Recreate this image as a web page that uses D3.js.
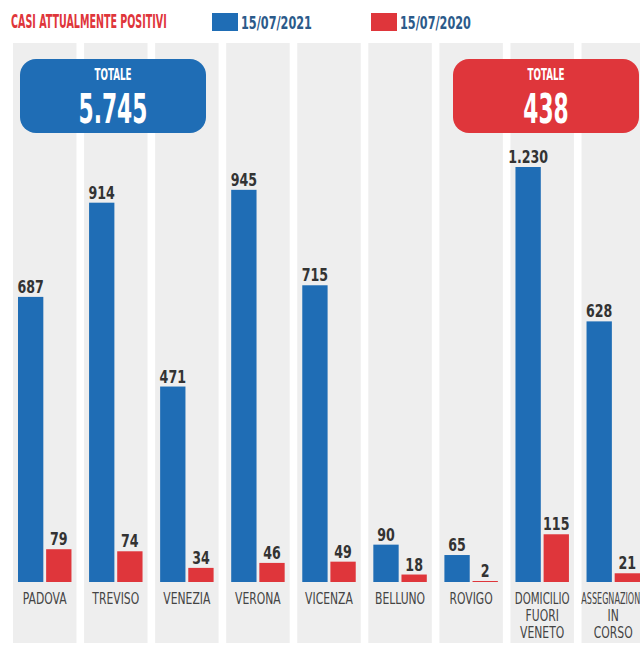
<!DOCTYPE html>
<meta charset="utf-8">
<style>
body { margin: 0; background: #fff; }
text { font-family: "Liberation Sans Narrow", "DejaVu Sans Condensed", sans-serif; }
</style>
<body>
<script src="https://cdnjs.cloudflare.com/ajax/libs/d3/7.8.5/d3.min.js"></script>
<script>
// data
var categories = ["PADOVA", "TREVISO", "VENEZIA", "VERONA", "VICENZA", "BELLUNO", "ROVIGO", "DOMICILIO FUORI VENETO", "ASSEGNAZIONE IN CORSO"];
var labelLines = [["PADOVA"], ["TREVISO"], ["VENEZIA"], ["VERONA"], ["VICENZA"], ["BELLUNO"], ["ROVIGO"], ["DOMICILIO", "FUORI", "VENETO"], ["ASSEGNAZIONE", "IN", "CORSO"]];
var series = ["15/07/2021", "15/07/2020"];
var values2021 = [687, 914, 471, 945, 715, 90, 65, 1230, 628];
var values2020 = [79, 74, 34, 46, 49, 18, 2, 115, 21];

var blue = "#1f6db5", red = "#df363b";
var colors = [blue, red];

var w = 640, h = 648;

var it = d3.formatLocale({decimal: ",", thousands: ".", grouping: [3], currency: ["€", ""]});
var fmt = it.format(",d");

// squeeze text horizontally around its x, the original uses a very narrow font
// k < 1 is a factor, k > 1 is a target width in px, maxW caps the width
function condense(sel, k, maxW) {
	sel.each(function() {
		var t = d3.select(this);
		var x0 = +t.attr("x") || 0;
		var len = this.getComputedTextLength();
		var f = k > 1 ? k / len : k;
		if (maxW) f = Math.min(f, maxW / len);
		t.attr("transform", "translate(" + x0 + ",0) scale(" + f + ",1) translate(" + (-x0) + ",0)");
	});
}

var svg = d3.select("body").append("svg")
	.attr("width", w)
	.attr("height", h);

var x = d3.scaleBand()
	.domain(categories)
	.range([13, 645])
	.paddingInner(0.107)
	.paddingOuter(0);

var xs = d3.scaleBand()
	.domain(series)
	.range([5, x.bandwidth() - 5])
	.paddingInner(0.1);

// the tall "domicilio" bar is cut at the top in the original
var y = d3.scaleLinear()
	.domain([0, 1000])
	.range([582, 167])
	.clamp(true);

var rows = categories.map(function(c, i) {
	return {cat: c, lines: labelLines[i], vals: [values2021[i], values2020[i]]};
});

// grey panels
svg.selectAll("rect.panel")
	.data(rows)
	.enter().append("rect")
	.attr("class", "panel")
	.attr("x", d => x(d.cat))
	.attr("y", 43)
	.attr("width", x.bandwidth())
	.attr("height", 600)
	.attr("fill", "#eeeeee");

var col = svg.selectAll("g.col")
	.data(rows)
	.enter().append("g")
	.attr("class", "col")
	.attr("transform", d => "translate(" + x(d.cat) + ",0)");

var bars = col.selectAll("g.bar")
	.data(d => d.vals.map((v, j) => ({s: series[j], v: v, j: j})))
	.enter().append("g");

bars.append("rect")
	.attr("x", d => xs(d.s))
	.attr("y", d => Math.min(y(d.v), y(0) - 1))
	.attr("width", xs.bandwidth())
	.attr("height", d => Math.max(1, y(0) - y(d.v)))
	.attr("fill", d => colors[d.j]);

bars.append("text")
	.attr("x", d => xs(d.s) + xs.bandwidth() / 2)
	.attr("y", d => Math.min(y(d.v), y(0) - 1) - 4)
	.attr("text-anchor", "middle")
	.attr("font-size", 18)
	.attr("font-weight", "bold")
	.attr("fill", "#333")
	.text(d => fmt(d.v))
	.call(condense, 0.78);

// category names under the bars, one text per line
col.each(function(r) {
	d3.select(this).selectAll("text.cat")
		.data(r.lines)
		.enter().append("text")
		.attr("class", "cat")
		.attr("x", x.bandwidth() / 2)
		.attr("y", (d, i) => 604 + i * 17)
		.attr("text-anchor", "middle")
		.attr("font-size", 15)
		.attr("fill", "#444")
		.text(d => d)
		.each(function(d) { d3.select(this).call(condense, 0.8, d.length > 10 ? 64 : 55); });
});

// header
svg.append("text")
	.attr("x", 11)
	.attr("y", 28)
	.attr("font-size", 19)
	.attr("font-weight", "bold")
	.attr("fill", red)
	.text("CASI ATTUALMENTE POSITIVI")
	.call(condense, 156);

var legX = [212, 371];
var leg = svg.selectAll("g.leg")
	.data(series)
	.enter().append("g")
	.attr("transform", (d, i) => "translate(" + legX[i] + ",13)");
leg.append("rect")
	.attr("width", 26)
	.attr("height", 18)
	.attr("fill", (d, i) => colors[i]);
leg.append("text")
	.attr("x", 29)
	.attr("y", 16)
	.attr("font-size", 18)
	.attr("font-weight", "bold")
	.attr("fill", "#2b5a8a")
	.text(d => d)
	.call(condense, 71);

// total boxes
var totals = [
	{sum: d3.sum(values2021), x: 20, color: blue},
	{sum: d3.sum(values2020), x: 453, color: red}
];
var tb = svg.selectAll("g.tot")
	.data(totals)
	.enter().append("g")
	.attr("transform", d => "translate(" + d.x + ",59)");
tb.append("rect")
	.attr("width", 186)
	.attr("height", 74)
	.attr("rx", 16)
	.attr("fill", d => d.color);
tb.append("text")
	.attr("x", 93)
	.attr("y", 21)
	.attr("text-anchor", "middle")
	.attr("font-size", 16)
	.attr("font-weight", "bold")
	.attr("fill", "#fff")
	.text("TOTALE")
	.call(condense, 37);
tb.append("text")
	.attr("x", 93)
	.attr("y", 64)
	.attr("text-anchor", "middle")
	.attr("font-size", 41)
	.attr("font-weight", "bold")
	.attr("fill", "#fff")
	.text(d => fmt(d.sum))
	.call(condense, 0.59);
</script>
</body>
